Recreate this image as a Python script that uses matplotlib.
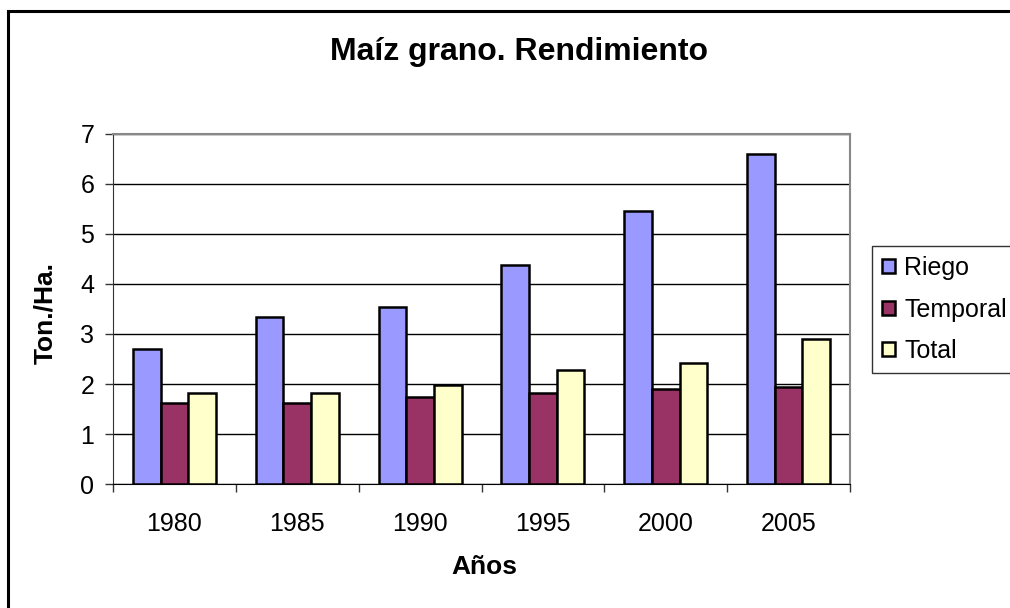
import numpy as np
import matplotlib.pyplot as plt
from matplotlib.patches import Rectangle

plt.rcParams['font.family'] = ['Liberation Sans', 'DejaVu Sans']

# data (Ton./Ha.)
years = ['1980', '1985', '1990', '1995', '2000', '2005']
riego = [2.71, 3.35, 3.55, 4.39, 5.47, 6.59]
temporal = [1.63, 1.63, 1.75, 1.83, 1.91, 1.95]
total = [1.83, 1.83, 1.99, 2.28, 2.43, 2.91]

series = [('Riego', riego, '#9999FF'),
          ('Temporal', temporal, '#993366'),
          ('Total', total, '#FFFFCC')]

fig = plt.figure(figsize=(10.1, 6.08), dpi=100)
ax = fig.add_axes([113 / 1010, 1 - 484 / 608, 737 / 1010, 350 / 608])

x = np.arange(len(years))
w = 0.225
for i, (name, vals, col) in enumerate(series):
    ax.bar(x + (i - 1) * w, vals, w, color=col, edgecolor='black',
           linewidth=1.8, label=name, zorder=3)

ax.set_xlim(-0.5, len(years) - 0.5)
ax.set_ylim(0, 7)
ax.set_yticks(range(0, 8))
ax.set_xticks(x)
ax.set_xticklabels(years)
ax.set_xticks(np.arange(-0.5, len(years)), minor=True)
ax.tick_params(axis='x', which='major', length=0, labelsize=18, pad=20)
ax.tick_params(axis='x', which='minor', length=5.5, width=1, color='#333333')
ax.tick_params(axis='y', length=5.5, width=1, labelsize=18, pad=8, color='#333333')
ax.grid(axis='y', color='black', linewidth=1, zorder=0)

for s in ['top', 'right']:
    ax.spines[s].set_color('#888888')
    ax.spines[s].set_linewidth(1.5)
ax.spines['left'].set_color('#333333')
ax.spines['bottom'].set_color('black')

fig.text(45 / 1010, 1 - 313 / 608, 'Ton./Ha.', fontsize=19, fontweight='bold',
         rotation=90, ha='center', va='center')
fig.text(484 / 1010, 1 - 567 / 608, 'Años', fontsize=19, fontweight='bold',
         ha='center', va='center')
fig.text(519 / 1010, 1 - 52 / 608, 'Maíz grano. Rendimiento', fontsize=23,
         fontweight='bold', ha='center', va='center')

leg = fig.legend(loc='upper left', bbox_to_anchor=(872 / 1010, 1 - 246 / 608),
                 fontsize=18, frameon=True, fancybox=False, handlelength=0.5,
                 handleheight=0.5, handletextpad=0.4, borderpad=0.4,
                 labelspacing=0.7, borderaxespad=0)
leg.get_frame().set_edgecolor('black')
leg.get_frame().set_linewidth(1)

# outer chart border (only top and left are visible in the picture)
fig.patches.append(Rectangle((8 / 1010, -0.1), 1.2, 1.1 - 11 / 608,
                             transform=fig.transFigure, fill=False,
                             edgecolor='black', linewidth=2.2))

fig.savefig('out.png', dpi=100)
